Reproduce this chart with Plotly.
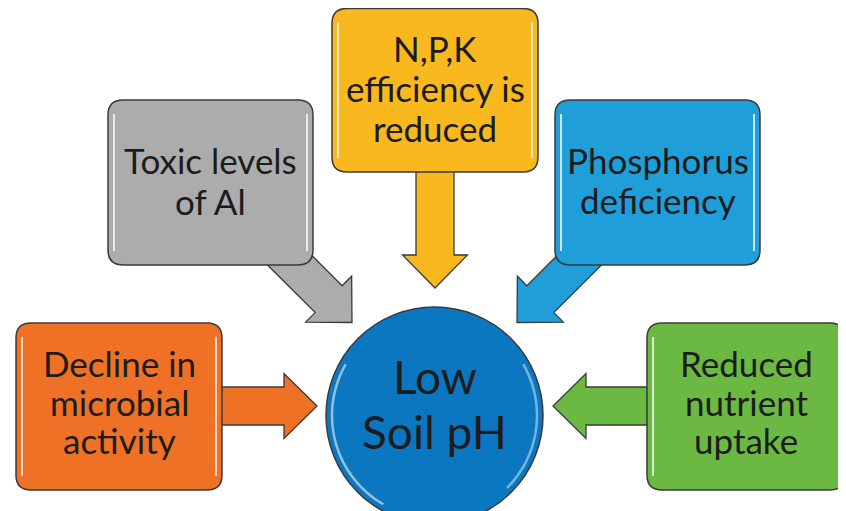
import math
import plotly.graph_objects as go

# ---- content ----
cause_labels = [
    "Decline in<br>microbial<br>activity",
    "Toxic levels<br>of Al",
    "N,P,K<br>efficiency is<br>reduced",
    "Phosphorus<br>deficiency",
    "Reduced<br>nutrient<br>uptake",
]
center_label = "Low<br>Soil pH"

# ---- styles / geometry (pixels, y downward) ----
W, H = 846, 511
OFF = 8  # browser default body margin
box_colors = ["#EE7125", "#ACACAC", "#F8B81E", "#1F9ED9", "#6BB843"]
center_color = "#0B77C1"
outline = "#3a3a3a"
text_color = "#1c1c1c"
FONT = "Lato"

boxes = [  # x0, y0, x1, y1
    (16, 323, 222, 490),
    (108, 100, 313, 265),
    (332, 8.5, 538, 172),
    (555, 100, 760, 265),
    (647, 323, 845, 490),
]
text_baselines = [  # baseline y of first line, line spacing
    (375, 38.5),
    (172, 41),
    (60, 40),
    (172, 40),
    (375, 38.5),
]
arrows = [  # start (x,y), tip (x,y)
    ((200, 406), (317, 406)),
    ((280, 250.5), (352, 322.5)),
    ((435, 150), (435, 288)),
    ((589, 250.5), (517, 322.5)),
    ((670, 406), (553, 406)),
]
circle_c = (434.5, 415.5)
circle_r = 108.5

shaft_half = 19
head_half = 32.5
head_len = 33


def arrow_path(p0, p1):
    (x0, y0), (x1, y1) = p0, p1
    L = math.hypot(x1 - x0, y1 - y0)
    ux, uy = (x1 - x0) / L, (y1 - y0) / L
    nx, ny = -uy, ux
    bx, by = x1 - ux * head_len, y1 - uy * head_len
    pts = [
        (x0 + nx * shaft_half, y0 + ny * shaft_half),
        (bx + nx * shaft_half, by + ny * shaft_half),
        (bx + nx * head_half, by + ny * head_half),
        (x1, y1),
        (bx - nx * head_half, by - ny * head_half),
        (bx - nx * shaft_half, by - ny * shaft_half),
        (x0 - nx * shaft_half, y0 - ny * shaft_half),
    ]
    return "M " + " L ".join(f"{x:.2f},{y:.2f}" for x, y in pts) + " Z"


def rounded_rect(x0, y0, x1, y1, r=15):
    return (f"M {x0+r},{y0} L {x1-r},{y0} Q {x1},{y0} {x1},{y0+r} "
            f"L {x1},{y1-r} Q {x1},{y1} {x1-r},{y1} L {x0+r},{y1} "
            f"Q {x0},{y1} {x0},{y1-r} L {x0},{y0+r} Q {x0},{y0} {x0+r},{y0} Z")


shapes = []
annotations = []

# arrows first (under boxes)
for (p0, p1), col in zip(arrows, box_colors):
    shapes.append(dict(type="path", path=arrow_path(p0, p1), fillcolor=col,
                       line=dict(color=outline, width=1.3)))

# center circle
cx, cy = circle_c
shapes.append(dict(type="circle", x0=cx - circle_r, y0=cy - circle_r,
                   x1=cx + circle_r, y1=cy + circle_r,
                   fillcolor=center_color, line=dict(color=outline, width=1.5)))


def arc(r, a0, a1, n=30):
    pts = []
    for i in range(n + 1):
        a = math.radians(a0 + (a1 - a0) * i / n)
        pts.append((cx + r * math.cos(a), cy + r * math.sin(a)))
    return "M " + " L ".join(f"{x:.2f},{y:.2f}" for x, y in pts)


shapes.append(dict(type="path", path=arc(circle_r - 6, 120, 210),
                   line=dict(color="rgba(255,255,255,0.55)", width=2.5)))
shapes.append(dict(type="path", path=arc(circle_r - 6, -30, 45),
                   line=dict(color="rgba(255,255,255,0.45)", width=2.5)))

# boxes
for (x0, y0, x1, y1), col in zip(boxes, box_colors):
    shapes.append(dict(type="path", path=rounded_rect(x0, y0, x1, y1),
                       fillcolor=col, line=dict(color=outline, width=1.5)))
    for xx in (x0 + 6, x1 - 6):
        shapes.append(dict(type="line", x0=xx, x1=xx, y0=y0 + 14, y1=y1 - 14,
                           line=dict(color="rgba(255,255,255,0.75)", width=2)))

# box texts, one annotation per line
fs = 35
for (x0, y0, x1, y1), label, (b0, step) in zip(boxes, cause_labels, text_baselines):
    xc = (x0 + x1) / 2
    for i, line in enumerate(label.split("<br>")):
        base = b0 + i * step
        annotations.append(dict(x=xc, y=base - 0.33 * fs, text=line, showarrow=False,
                                xanchor="center", yanchor="middle",
                                font=dict(family=FONT, size=fs, color=text_color)))

# center text
cfs = 46
for i, line in enumerate(center_label.split("<br>")):
    base = 392 + i * 55
    annotations.append(dict(x=cx, y=base - 0.33 * cfs, text=line, showarrow=False,
                            xanchor="center", yanchor="middle",
                            font=dict(family=FONT, size=cfs, color=text_color)))

fig = go.Figure()
fig.update_layout(
    width=W - OFF, height=H - OFF,
    margin=dict(l=0, r=0, t=0, b=0),
    paper_bgcolor="white", plot_bgcolor="white",
    xaxis=dict(range=[OFF, W], visible=False, fixedrange=True),
    yaxis=dict(range=[H, OFF], visible=False, fixedrange=True),
    shapes=shapes, annotations=annotations, showlegend=False,
)
fig.write_html("out.html")
